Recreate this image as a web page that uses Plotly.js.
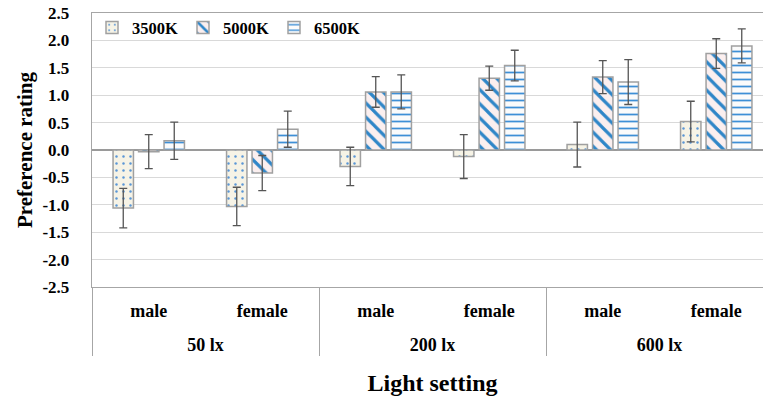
<!DOCTYPE html>
<html>
<head>
<meta charset="utf-8">
<script src="https://cdn.plot.ly/plotly-3.0.1.min.js"></script>
<style>
html,body{margin:0;padding:0;overflow:hidden;background:#fff;}
#chart{width:775px;height:402px;}
</style>
</head>
<body>
<div id="chart"></div>
<script>
// Data
var illuminance = ['50 lx','50 lx','200 lx','200 lx','600 lx','600 lx'];
var gender = ['male','female','male','female','male','female'];
var series = ['3500K','5000K','6500K'];
var v3500 = [-1.06, -1.03, -0.30, -0.12, 0.10, 0.52];
var e3500 = [0.36, 0.35, 0.35, 0.40, 0.41, 0.37];
var v5000 = [-0.03, -0.42, 1.06, 1.31, 1.33, 1.76];
var e5000 = [0.31, 0.32, 0.28, 0.22, 0.30, 0.27];
var v6500 = [0.17, 0.38, 1.06, 1.54, 1.24, 1.90];
var e6500 = [0.34, 0.33, 0.31, 0.28, 0.41, 0.31];
var yTickVals = [-2.5,-2,-1.5,-1,-0.5,0,0.5,1,1.5,2,2.5];
var yTickText = ['-2.5','-2.0','-1.5','-1.0','-0.5','0.0','0.5','1.0','1.5','2.0','2.5'];

var FONT = 'Liberation Serif, Times New Roman, serif';
var errStyle = {type:'data', visible:true, color:'#555555', thickness:1.3, width:4};
var lineStyle = {color:'#a0a0a0', width:1.5};

// spacer line under the inner (gender) labels to open the gap to the outer labels
var spacer = '<br><span style="font-size:2px"> </span>';
var alias = {};
gender.forEach(function(g){ alias[g] = g + spacer; });

var traces = [
  {name:series[0], values:v3500, errs:e3500,
   pattern:{shape:'.', bgcolor:'#f6f3e6', fgcolor:'#5a96d6', size:7, solidity:0.1}},
  {name:series[1], values:v5000, errs:e5000,
   pattern:{shape:'\\', bgcolor:'#fbefef', fgcolor:'#2f86c8', size:10, solidity:0.32}},
  {name:series[2], values:v6500, errs:e6500,
   pattern:{shape:'-', bgcolor:'#fbfbfb', fgcolor:'#3d8fd6', size:7, solidity:0.25}}
].map(function(s){
  return {
    type:'bar', name:s.name,
    x:[illuminance, gender], y:s.values,
    error_y:Object.assign({array:s.errs}, errStyle),
    marker:{color:s.pattern.bgcolor, line:lineStyle, pattern:s.pattern}
  };
});

var layout = {
  width:775, height:402,
  margin:{l:92, r:2, t:13, b:115},
  paper_bgcolor:'#ffffff', plot_bgcolor:'#ffffff',
  barmode:'group', bargap:0.326, bargroupgap:0.2,
  font:{family:FONT, size:16, color:'#000', weight:'bold'},
  showlegend:true,
  legend:{orientation:'h', x:0.0, y:1.01, xanchor:'left', yanchor:'top',
          font:{family:FONT, size:16.5, weight:'bold'}, bgcolor:'rgba(0,0,0,0)',
          traceorder:'normal', itemwidth:30},
  xaxis:{type:'multicategory', showline:true, linecolor:'#a6a6a6', linewidth:1.3,
         mirror:true, showgrid:false, ticks:'', ticklabelstandoff:7,
         showdividers:true, dividercolor:'#a6a6a6', dividerwidth:1,
         labelalias:alias,
         tickfont:{family:FONT, size:18, weight:'bold'},
         title:{text:'Light setting', font:{family:FONT, size:24, weight:'bold'}, standoff:20}},
  yaxis:{range:[-2.5,2.5], tickvals:yTickVals, ticktext:yTickText,
         showgrid:true, gridcolor:'#d9d9d9', gridwidth:1,
         zeroline:true, zerolinecolor:'#9a9a9a', zerolinewidth:1.5,
         showline:true, linecolor:'#a6a6a6', linewidth:1.3,
         ticks:'outside', ticklen:18, tickcolor:'rgba(0,0,0,0)',
         tickfont:{family:FONT, size:17, weight:'bold'},
         title:{text:'Preference rating', font:{family:FONT, size:21, weight:'bold'}, standoff:4}}
};

Plotly.newPlot('chart', traces, layout, {displayModeBar:false, staticPlot:true});
</script>
</body>
</html>
